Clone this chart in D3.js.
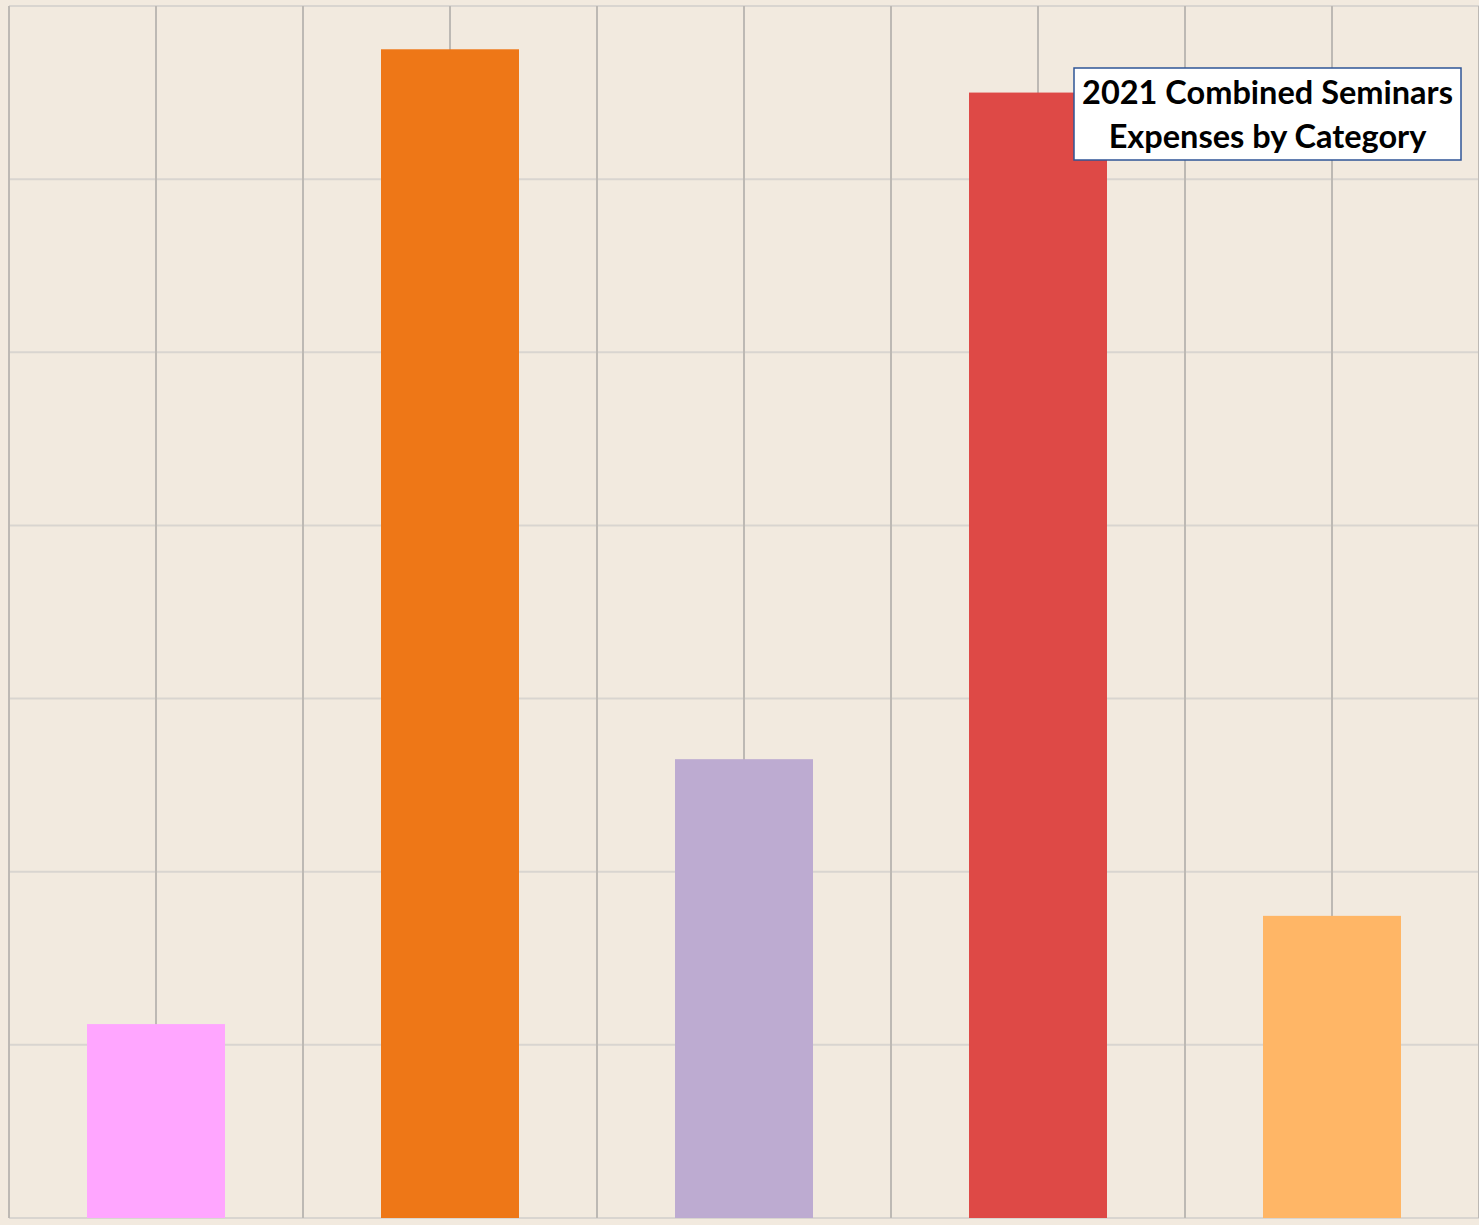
<!DOCTYPE html>
<html>
<head>
<meta charset="utf-8">
<script src="https://cdnjs.cloudflare.com/ajax/libs/d3/7.8.5/d3.min.js"></script>
<style>
  body { margin: 0; background: #F2EADF; }
</style>
</head>
<body>
<div id="chart"></div>
<script>
// data (category names are not shown in the chart)
var categories = ["Category 1", "Category 2", "Category 3", "Category 4", "Category 5"];
var expenses = [1120, 6750, 2650, 6500, 1745];
var barColors = ["#FFA6FF", "#EE7717", "#BDABD1", "#DE4946", "#FFB666"];
var yTicks = [0, 1000, 2000, 3000, 4000, 5000, 6000, 7000];
var titleLines = ["2021 Combined Seminars", "Expenses by Category"];

// dimensions
var W = 1479, H = 1225;
var margin = {top: 6, right: 0, bottom: 7, left: 9},
    width = 1470,
    height = H - margin.top - margin.bottom;

var svg = d3.select("#chart")
  .append("svg")
    .attr("width", W)
    .attr("height", H)
    .style("display", "block");

svg.append("rect")
  .attr("width", W).attr("height", H)
  .attr("fill", "#F2EADF");

var g = svg.append("g")
  .attr("transform", "translate(" + margin.left + "," + margin.top + ")");

// scales
var x = d3.scaleBand()
  .domain(categories)
  .range([0, width])
  .paddingInner(0.5306)
  .paddingOuter(0.2653);

var y = d3.scaleLinear()
  .domain([0, 7000])
  .range([height, 0]);

// horizontal grid lines
g.append("g")
  .selectAll("line")
  .data(yTicks)
  .enter()
  .append("line")
    .attr("x1", 0)
    .attr("x2", width + 10)
    .attr("y1", function(d) { return y(d); })
    .attr("y2", function(d) { return y(d); })
    .attr("stroke", "#D9D5D0")
    .attr("stroke-width", 2);

// vertical grid lines: band edges and band centres
var step = x.step();
var vx = d3.range(0, categories.length * 2 + 1).map(function(i) { return i * step / 2; });
g.append("g")
  .selectAll("line")
  .data(vx)
  .enter()
  .append("line")
    .attr("x1", function(d) { return d; })
    .attr("x2", function(d) { return d; })
    .attr("y1", 0)
    .attr("y2", height)
    .attr("stroke", "#BDB9B4")
    .attr("stroke-width", 2);

// bars
g.append("g")
  .selectAll("rect")
  .data(expenses)
  .enter()
  .append("rect")
    .attr("x", function(d, i) { return x(categories[i]); })
    .attr("y", function(d) { return y(d); })
    .attr("width", x.bandwidth())
    .attr("height", function(d) { return height - y(d); })
    .attr("fill", function(d, i) { return barColors[i]; });

// title box
var box = svg.append("g")
  .attr("transform", "translate(1074,68)");
box.append("rect")
  .attr("width", 387)
  .attr("height", 92)
  .attr("fill", "#ffffff")
  .attr("stroke", "#2F5597")
  .attr("stroke-width", 1.5);
box.selectAll("text")
  .data(titleLines)
  .enter()
  .append("text")
    .attr("x", 193.5)
    .attr("y", function(d, i) { return 36 + i * 44; })
    .attr("text-anchor", "middle")
    .style("font-family", "Lato, 'Open Sans', sans-serif")
    .style("font-weight", "bold")
    .style("font-size", "32.5px")
    .attr("fill", "#000")
    .text(function(d) { return d; });
</script>
</body>
</html>
